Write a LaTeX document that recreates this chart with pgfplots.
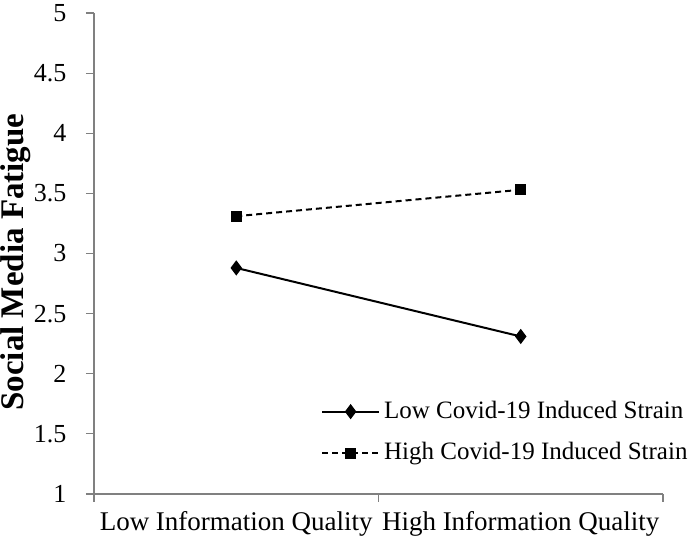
\documentclass[border=0pt]{standalone}
\usepackage{fontspec}
\setmainfont{Liberation Serif}
\usepackage{pgfplots}
\pgfplotsset{compat=1.18}
\begin{document}
\fontsize{14}{16}\selectfont
\begin{tikzpicture}
\begin{axis}[
  name=ax,
  width=284.5pt, height=240.5pt,
  scale only axis,
  xmin=0, xmax=2, ymin=1, ymax=5,
  axis x line=bottom, axis y line=left,
  axis line style={-, draw=black!50, line width=0.6pt},
  tick style={draw=black!50, line width=0.6pt},
  tick align=outside,
  major tick length=4pt,
  minor tick length=4pt,
  xtick={0.5,1.5},
  xticklabels={Low Information Quality, High Information Quality},
  x tick style={draw=none},
  minor xtick={0,1,2},
  minor x tick style={draw=black!50, line width=0.6pt},
  ytick={1,1.5,...,5},
  yticklabel style={font=\fontsize{13}{15}\selectfont, xshift=-5pt},
  xticklabel style={font=\fontsize{13.5}{16}\selectfont},
  /pgf/number format/assume math mode=true,
  ylabel={\textbf{Social Media Fatigue}},
  every axis y label/.style={at={(axis description cs:-0.137,0.482)}, rotate=90, anchor=center,
    font=\fontsize{16.5}{18}\selectfont},
  legend style={at={(0.388,0.128)}, anchor=west, draw=none, fill=none,
    font=\fontsize{12.5}{14}\selectfont, row sep=6pt},
  legend cell align=left,
  legend image code/.code={\draw[mark repeat=2,mark phase=2] plot coordinates {(0cm,0cm)(0.5cm,0cm)(1cm,0cm)};},
  clip=false,
]
\addplot[black, line width=1pt, mark=diamond*, mark size=3pt, mark options={solid}]
  coordinates {(0.5,2.88) (1.5,2.31)};
\addlegendentry{Low Covid-19 Induced Strain}
\addplot[black, line width=1pt, dash pattern=on 3pt off 2pt, mark=square*, mark size=2.2pt, mark options={solid}]
  coordinates {(0.5,3.31) (1.5,3.53)};
\addlegendentry{High Covid-19 Induced Strain}
\end{axis}
\pgfresetboundingbox
\path ([xshift=-47pt,yshift=-24pt]ax.south west) rectangle ([xshift=13pt,yshift=6.5pt]ax.north east);
\end{tikzpicture}
\end{document}
